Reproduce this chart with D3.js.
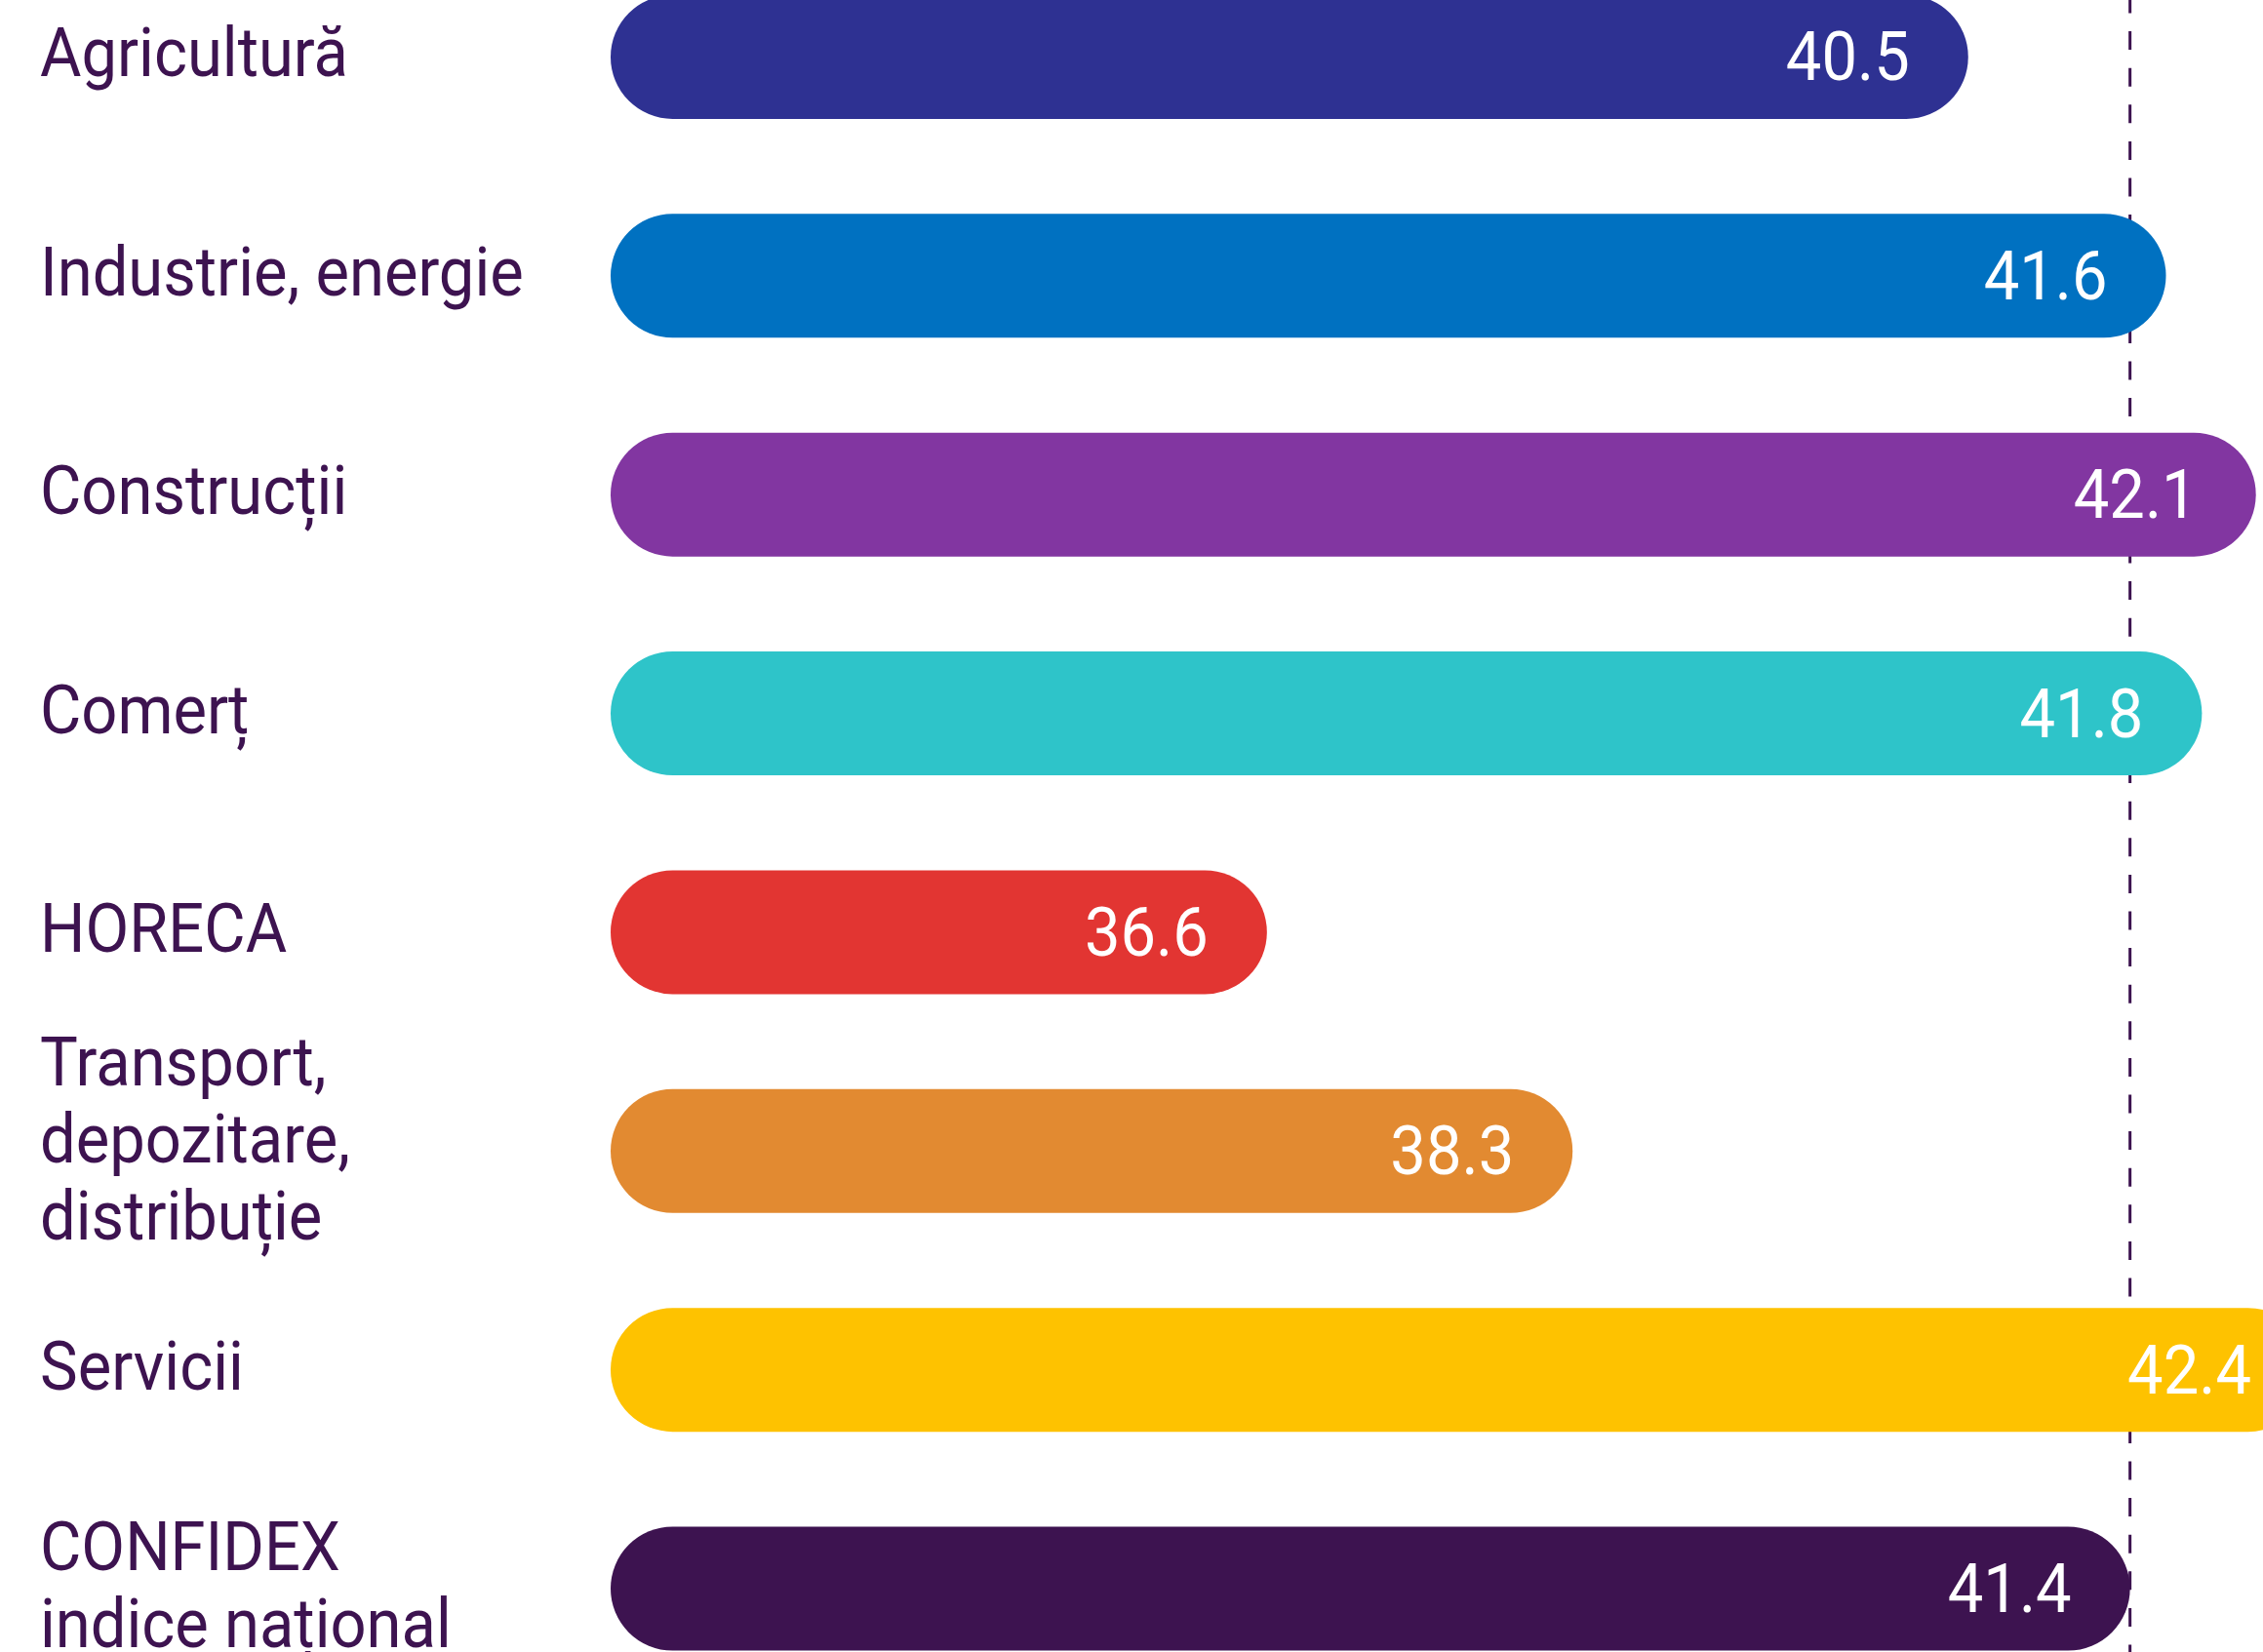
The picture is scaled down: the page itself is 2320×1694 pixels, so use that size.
<!DOCTYPE html>
<html>
<head>
<meta charset="utf-8">
<script src="https://cdn.jsdelivr.net/npm/d3@7"></script>
<style>
  html, body { margin: 0; padding: 0; background: #ffffff; overflow: hidden; }
  svg { display: block; }
</style>
</head>
<body>
<div id="chart"></div>
<script>
// ---- data ----
const categories = ["Agricultură", "Industrie, energie", "Construcții", "Comerț", "HORECA",
  "Transport, depozitare, distribuție", "Servicii", "CONFIDEX indice național"];
const labelLines = [["Agricultură"], ["Industrie, energie"], ["Construcții"], ["Comerț"], ["HORECA"],
  ["Transport,", "depozitare,", "distribuție"], ["Servicii"], ["CONFIDEX", "indice național"]];
const values = [40.5, 41.6, 42.1, 41.8, 36.6, 38.3, 42.4, 41.4];
const valueLabels = ["40.5", "41.6", "42.1", "41.8", "36.6", "38.3", "42.4", "41.4"];
const colors = ["#2e3192", "#0071c1", "#8236a1", "#2ec4c9", "#e23532", "#e28a31", "#fec200", "#3d1350"];
const referenceValue = 41.4; // CONFIDEX national index

// ---- layout ----
const W = 2320, H = 1694;
const textColor = "#3d1350";
const fontFamily = "Roboto, 'Liberation Sans', sans-serif";
const fontSize = 70;
const squeeze = 0.93;
const barH = 127;

const svg = d3.select("#chart").append("svg")
  .attr("width", W).attr("height", H).attr("viewBox", `0 0 ${W} ${H}`);

const x = d3.scaleLinear().domain([32.95, 42.4]).range([626, 2368]);
const y = d3.scalePoint().domain(categories).range([58.4, 1629]);

const rows = categories.map((c, i) => ({
  cat: c, lines: labelLines[i], v: values[i], lab: valueLabels[i], col: colors[i]
}));

// reference dashed line (behind bars)
svg.append("line")
  .attr("x1", x(referenceValue)).attr("x2", x(referenceValue))
  .attr("y1", 0).attr("y2", H)
  .attr("stroke", textColor).attr("stroke-width", 3)
  .attr("stroke-dasharray", "19 18.6").attr("stroke-dashoffset", 5.5);

// bars
svg.append("g").selectAll("rect").data(rows).join("rect")
  .attr("x", x.range()[0])
  .attr("y", d => y(d.cat) - barH / 2)
  .attr("width", d => x(d.v) - x.range()[0])
  .attr("height", barH)
  .attr("rx", barH / 2).attr("ry", barH / 2)
  .attr("fill", d => d.col);

// value labels
svg.append("g").selectAll("text").data(rows).join("text")
  .attr("transform", d => `translate(${x(d.v) - 60},${y(d.cat) + 24}) scale(${squeeze},1)`)
  .attr("text-anchor", "end")
  .attr("font-family", fontFamily).attr("font-size", fontSize)
  .attr("fill", "#ffffff")
  .text(d => d.lab);

// category labels
const lh = 79;
const lg = svg.append("g");
rows.forEach(d => {
  const n = d.lines.length;
  d.lines.forEach((ln, i) => {
    const off = 20 + (i - (n - 1) / 2) * lh - (n - 1) * (n - 2) * 4;
    lg.append("text")
      .attr("transform", `translate(41,${y(d.cat) + off}) scale(${squeeze},1)`)
      .attr("font-family", fontFamily).attr("font-size", fontSize)
      .attr("fill", textColor)
      .text(ln);
  });
});
</script>
</body>
</html>
